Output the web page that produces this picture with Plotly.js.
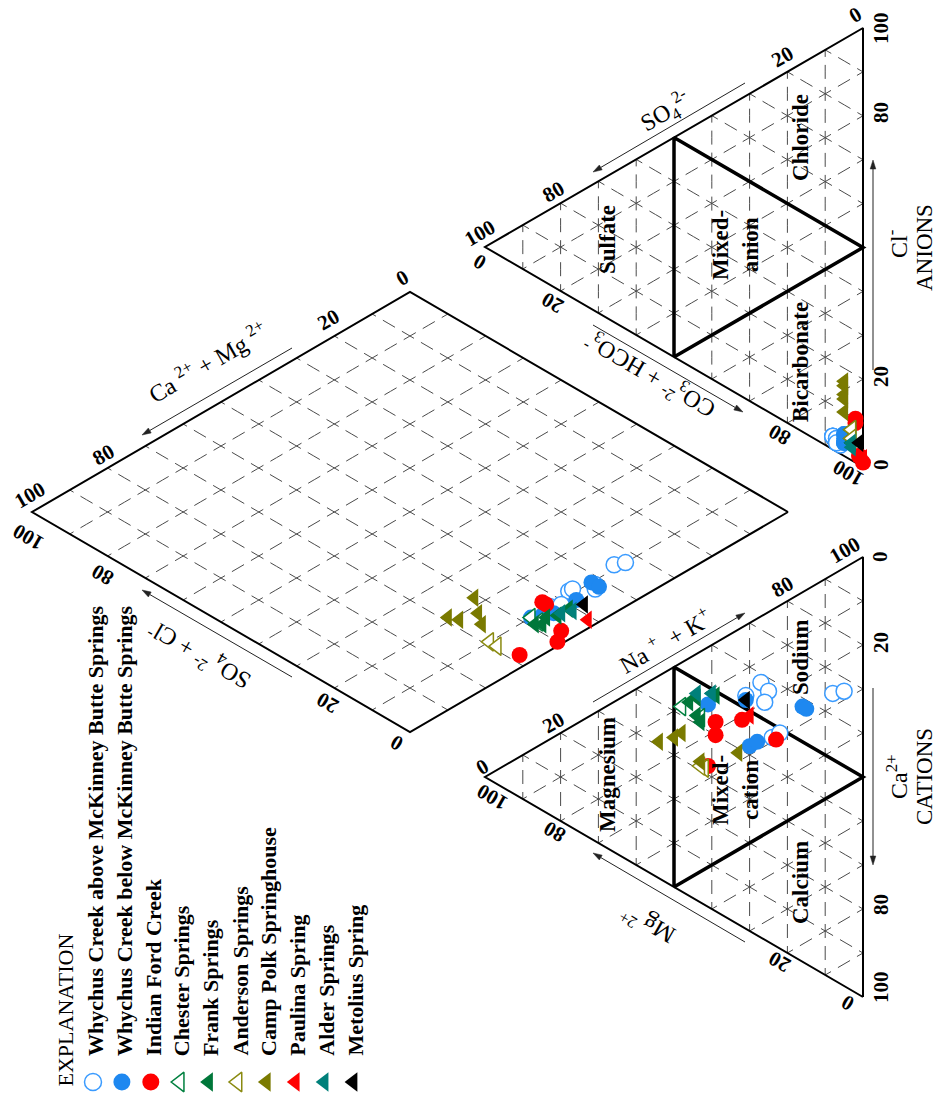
<!DOCTYPE html>
<html>
<head>
<meta charset="utf-8">
<script src="https://cdn.plot.ly/plotly-3.0.1.min.js"></script>
<style>html,body{margin:0;padding:0;background:#fff}#chart{width:938px;height:1098px}</style>
</head>
<body>
<div id="chart"></div>
<script>
// ---------------- DATA (percent of milliequivalents) ----------------
// each sample: [Ca, Mg, Na+K, HCO3+CO3, SO4, Cl]
const seriesNames = [
  'Whychus Creek above McKinney Butte Springs',
  'Whychus Creek below McKinney Butte Springs',
  'Indian Ford Creek',
  'Chester Springs',
  'Frank Springs',
  'Anderson Springs',
  'Camp Polk Springhouse',
  'Paulina Spring',
  'Alder Springs',
  'Metolius Spring'
];
const whychusAbove = [
  [16,31,53, 89,8,3],[15,27,58, 91,7,2],[18,25,57, 92,6,2],[20,26,54, 89,8,3],
  [27,8,65, 89,8,3],[28,5,67, 90,7,3],[29,24,47, 90,7,3],[29,22,49, 91,7,2]
];
const whychusBelow = [
  [26,16,58, 90,5,5],[27,15,58, 92,5,3],[13,41,46, 92,5,3],
  [28,30,42, 90,5,5],[28,28,44, 91,5,4],[17,31,52, 92,5,3]
];
const indianFord = [
  [21,32,47, 88,2,10],[30,23,47, 89,2,9],[18,39,43, 97,1,2],
  [21,39,40, 99,0,1],[27,41,32, 97,1,2]
];
const chester = [[10,48,42, 92,3,5],[15,43,42, 90,3,7]];
const frank = [
  [10,46,44, 92,3,5],[10,44,46, 93,3,4],[14,44,42, 93,3,4],
  [16,43,41, 92,3,5],[12,39,49, 93,3,4]
];
const anderson = [[27,42,31, 90,3,7],[26,43,31, 92,3,5]];
const campPolk = [
  [15,54,31, 79,5,16],[25,43,32, 81,5,14],[28,33,39, 78,5,17],
  [16,48,36, 82,5,13],[16,50,34, 85,5,10]
];
const paulina = [[21,30,49, 98,0,2]];
const alder = [[9,44,47, 93,3,4],[11,40,49, 94,3,3]];
const metolius = [[17,31,52, 94,1,5]];

const tickValues = [0, 20, 80, 100];
const gridSteps = [10,20,30,40,50,60,70,80,90];

// ---------------- GEOMETRY (page layout in pixels) ----------------
const CAT = {ca:[863,997], na:[863,557], mg:[485,777]};
const AN  = {hco3:[863,467], cl:[863,28], so4:[485,247]};
const DB = [788,512], DL = [410,732], DR = [410,292];

function catXY(ca, mg, na) {
  const s = ca + mg + na;
  return [(ca*CAT.ca[0] + mg*CAT.mg[0] + na*CAT.na[0]) / s,
          (ca*CAT.ca[1] + mg*CAT.mg[1] + na*CAT.na[1]) / s];
}
function anXY(hco3, so4, cl) {
  const s = hco3 + so4 + cl;
  return [(hco3*AN.hco3[0] + so4*AN.so4[0] + cl*AN.cl[0]) / s,
          (hco3*AN.hco3[1] + so4*AN.so4[1] + cl*AN.cl[1]) / s];
}
function diaXY(caMg, so4cl) {
  const a = caMg/100, b = so4cl/100;
  return [DB[0] + a*(DL[0]-DB[0]) + b*(DR[0]-DB[0]),
          DB[1] + a*(DL[1]-DB[1]) + b*(DR[1]-DB[1])];
}

// ---------------- GRID / FRAMES ----------------
const grid = {x:[], y:[]};
function seg(arr, p, q) { arr.x.push(p[0], q[0], null); arr.y.push(p[1], q[1], null); }
gridSteps.forEach(k => {
  seg(grid, catXY(k,0,100-k), catXY(k,100-k,0));
  seg(grid, catXY(0,k,100-k), catXY(100-k,k,0));
  seg(grid, catXY(0,100-k,k), catXY(100-k,0,k));
  seg(grid, anXY(k,0,100-k), anXY(k,100-k,0));
  seg(grid, anXY(0,k,100-k), anXY(100-k,k,0));
  seg(grid, anXY(0,100-k,k), anXY(100-k,0,k));
  seg(grid, diaXY(k,0), diaXY(k,100));
  seg(grid, diaXY(0,k), diaXY(100,k));
});

const frame = {x:[], y:[]};
function poly(arr, pts) { pts.forEach(p => { arr.x.push(p[0]); arr.y.push(p[1]); }); arr.x.push(pts[0][0], null); arr.y.push(pts[0][1], null); }
poly(frame, [catXY(100,0,0), catXY(0,100,0), catXY(0,0,100)]);
poly(frame, [anXY(100,0,0), anXY(0,100,0), anXY(0,0,100)]);
poly(frame, [diaXY(0,0), diaXY(100,0), diaXY(100,100), diaXY(0,100)]);

const classes = {x:[], y:[]};
poly(classes, [catXY(50,50,0), catXY(50,0,50), catXY(0,50,50)]);
poly(classes, [anXY(50,50,0), anXY(50,0,50), anXY(0,50,50)]);

// ---------------- TRACES ----------------
const styles = [
  {symbol:'circle', size:16, color:'#ffffff', line:{color:'#3a9bff', width:1.5}},
  {symbol:'circle', size:16, color:'#1e88f0', line:{width:0}},
  {symbol:'circle', size:16, color:'#ff0000', line:{width:0}},
  {symbol:'triangle-left', size:16, color:'#ffffff', line:{color:'#00803f', width:1.5}},
  {symbol:'triangle-left', size:16, color:'#00773a', line:{width:0}},
  {symbol:'triangle-left', size:16, color:'#ffffff', line:{color:'#8a8a10', width:1.5}},
  {symbol:'triangle-left', size:16, color:'#7a7a00', line:{width:0}},
  {symbol:'triangle-left', size:16, color:'#ff0000', line:{width:0}},
  {symbol:'triangle-left', size:16, color:'#00807a', line:{width:0}},
  {symbol:'triangle-left', size:16, color:'#000000', line:{width:0}}
];
const allSeries = [whychusAbove, whychusBelow, indianFord, chester, frank, anderson, campPolk, paulina, alder, metolius];

const traces = [
  {x:grid.x, y:grid.y, mode:'lines', line:{color:'#4a4a4a', width:1, dash:'7px,8px,7px,0px'}, hoverinfo:'skip', showlegend:false},
  {x:frame.x, y:frame.y, mode:'lines', line:{color:'#000', width:2}, hoverinfo:'skip', showlegend:false},
  {x:classes.x, y:classes.y, mode:'lines', line:{color:'#000', width:3.5}, hoverinfo:'skip', showlegend:false}
];
allSeries.forEach((rows, i) => {
  const xs = [], ys = [];
  rows.forEach(r => {
    const c = catXY(r[0], r[1], r[2]);
    const a = anXY(r[3], r[4], r[5]);
    const d = diaXY(r[0] + r[1], r[4] + r[5]);
    xs.push(c[0], a[0], d[0]); ys.push(c[1], a[1], d[1]);
  });
  const st = styles[i];
  traces.push({x:xs, y:ys, mode:'markers', name:seriesNames[i], cliponaxis:false,
    marker:{symbol:st.symbol, size:st.size, color:st.color, line:st.line}, hoverinfo:'skip', showlegend:false});
});

// legend markers
const legendX0 = 93, legendStep = 28.9, legendMarkerY = 1082, legendTextY = 1057;
seriesNames.forEach((n, i) => {
  const st = styles[i];
  traces.push({x:[legendX0 + i*legendStep], y:[legendMarkerY], mode:'markers', cliponaxis:false,
    marker:{symbol:st.symbol, size:st.size + 1, color:st.color, line:st.line}, hoverinfo:'skip', showlegend:false});
});

// ---------------- ANNOTATIONS / SHAPES ----------------
const FONT = 'Liberation Serif, Times New Roman, serif';
const ann = [];
const shapes = [];
function label(x, y, text, angle, size, extra) {
  ann.push(Object.assign({x:x, y:y, xref:'x', yref:'y', text:text, showarrow:false, textangle:angle,
    font:{family:FONT, size:size, color:'#000'}, xanchor:'center', yanchor:'middle', borderpad:0}, extra || {}));
}
function arrow(tx, ty, hx, hy) {
  const dx = hx - tx, dy = hy - ty, L = Math.hypot(dx, dy), ux = dx / L, uy = dy / L;
  const bx = hx - ux * 9, by = hy - uy * 9, px = -uy * 2.8, py = ux * 2.8;
  shapes.push({type:'line', xref:'x', yref:'y', x0:tx, y0:ty, x1:bx, y1:by, line:{color:'#222', width:1}});
  shapes.push({type:'path', xref:'x', yref:'y',
    path:'M' + hx + ',' + hy + ' L' + (bx + px) + ',' + (by + py) + ' L' + (bx - px) + ',' + (by - py) + ' Z',
    fillcolor:'#222', line:{color:'#222', width:0.5}});
}

// tick labels (values 0,20,80,100 along each edge)
const tickSets = [
  {angle:-90,  pos:[[880,557],[881,643],[881,905],[881,987]]},      // cation Ca
  {angle:-30,  pos:[[482,767],[553,723],[782,587],[845,550]]},      // cation Na+K
  {angle:-150, pos:[[848,1003],[780,962],[555,832],[492,797]]},     // cation Mg
  {angle:-90,  pos:[[881,465],[881,377],[881,113],[881,28]]},       // anion Cl
  {angle:-30,  pos:[[855,15],[782,57],[553,192],[480,233]]},        // anion SO4
  {angle:-150, pos:[[480,262],[553,303],[780,435],[848,473]]},      // anion HCO3
  {angle:-30,  pos:[[402,278],[328,320],[103,455],[30,495]]},       // diamond Ca+Mg
  {angle:-150, pos:[[397,743],[328,703],[103,575],[28,537]]}        // diamond SO4+Cl
];
tickSets.forEach(s => s.pos.forEach((p, j) => label(p[0], p[1], '<b>' + tickValues[j] + '</b>', s.angle, 21)));

// axis titles
const NB = '\u00a0';
label(665, 640, 'Na' + NB + '<sup>+</sup>' + NB + NB + '+ K<sup>+</sup>', -30, 24);
label(648, 925, 'Mg' + NB + '<sup>2+</sup>', -150, 24);
label(897, 777, 'Ca<sup>2+</sup>', -90, 24);
label(924, 777, 'CATIONS', -90, 23);
label(665, 112, 'SO<sub>4</sub><sup>2-</sup>', -30, 24);
label(650, 375, 'CO<sub>3</sub><sup>2-</sup>' + NB + '+ HCO<sub>3</sub><sup>-</sup>', -150, 24);
label(897, 244, 'Cl<sup>-</sup>', -90, 24);
label(924, 248, 'ANIONS', -90, 23);
label(207, 362, 'Ca' + NB + '<sup>2+</sup>' + NB + '+ Mg' + NB + '<sup>2+</sup>', -30, 24);
label(200, 655, 'SO<sub>4</sub>' + NB + '<sup>2-</sup>' + NB + '+ Cl<sup>-</sup>', -150, 24);

arrow(593, 702, 745, 613);
arrow(745, 942, 593, 853);
arrow(873, 688, 873, 865);
arrow(745, 83, 593, 172);
arrow(593, 325, 743, 412);
arrow(873, 370, 873, 160);
arrow(292, 348, 142, 435);
arrow(292, 677, 142, 590);

// region labels
label(607, 775, '<b>Magnesium</b>', -90, 23);
label(735, 790, '<b>Mixed-</b><br><b>cation</b>', -90, 23);
label(800, 658, '<b>Sodium</b>', -90, 23);
label(800, 883, '<b>Calcium</b>', -90, 23);
label(607, 240, '<b>Sulfate</b>', -90, 23);
label(735, 245, '<b>Mixed-</b><br><b>anion</b>', -90, 23);
label(800, 138, '<b>Chloride</b>', -90, 23);
label(800, 362, '<b>Bicarbonate</b>', -90, 23);

// legend
label(65, 1088, 'EXPLANATION', -90, 22, {yanchor:'bottom'});
seriesNames.forEach((n, i) => label(legendX0 + 2 + i*legendStep, legendTextY, '<b>' + n + '</b>', -90, 22, {yanchor:'bottom'}));

const layout = {
  width:938, height:1098,
  margin:{l:0, r:0, t:0, b:0, pad:0},
  paper_bgcolor:'#ffffff', plot_bgcolor:'#ffffff',
  xaxis:{range:[0,938], visible:false, fixedrange:true},
  yaxis:{range:[1098,0], visible:false, fixedrange:true},
  showlegend:false,
  annotations:ann,
  shapes:shapes
};
Plotly.newPlot('chart', traces, layout, {staticPlot:true, displayModeBar:false});
</script>
</body>
</html>
